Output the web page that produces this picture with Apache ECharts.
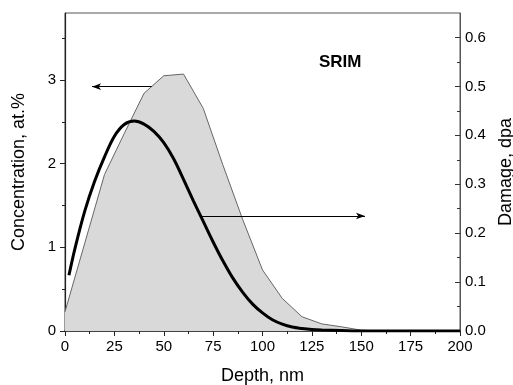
<!DOCTYPE html>
<html>
<head>
<meta charset="utf-8">
<script src="https://cdn.jsdelivr.net/npm/echarts@6/dist/echarts.min.js"></script>
<style>
html,body{margin:0;padding:0;background:#fff;}
#chart{width:513px;height:385px;}
</style>
</head>
<body>
<div id="chart"></div>
<script>
// Concentration (gray area, left axis)
const concDepth = [0,10,20,30,40,50,60,70,80,90,100,110,120,130,140,150,160,170,180,190,200];
const concentration = [0.23,1.05,1.87,2.36,2.84,3.05,3.07,2.66,1.98,1.33,0.73,0.39,0.17,0.085,0.05,0.01,0,0,0,0,0];
// Damage (black curve, right axis)
const damDepth = [2,5,10,15,20,25,30,35,40,45,50,55,60,65,70,75,80,85,90,95,100,105,110,115,120,125,130,140,150,160,170,180,190,200];
const damage = [0.114,0.168,0.245,0.306,0.356,0.398,0.422,0.429,0.423,0.408,0.385,0.352,0.310,0.266,0.224,0.182,0.143,0.108,0.079,0.055,0.037,0.023,0.014,0.008,0.005,0.003,0.002,0.001,0,0,0,0,0,0];
// Tick values
const leftMajor = [0,1,2,3];
const leftMinor = [0.5,1.5,2.5,3.5];
const rightMajor = [0,0.1,0.2,0.3,0.4,0.5,0.6];
const rightMinor = [0.05,0.15,0.25,0.35,0.45,0.55];
// Arrow annotations (data coordinates)
const concArrow = {from:[43.9,2.92], to:[13.7,2.92]};
const damArrow = {from:[69.4,0.235], to:[151.9,0.235]};

const FONT = 'Arial, "Liberation Sans", sans-serif';
const chart = echarts.init(document.getElementById('chart'), null, {renderer:'canvas'});

const lblStyle = {color:'#000', fontFamily:FONT, fontSize:15};

chart.setOption({
  animation:false,
  backgroundColor:'#fff',
  title:{text:'SRIM', left:314, top:49, textStyle:{fontFamily:FONT, fontSize:17, fontWeight:'bold', color:'#000'}},
  grid:{left:65, right:53, top:13, bottom:54, outerBoundsMode:'none', containLabel:false, show:true, borderColor:'#555', borderWidth:1, backgroundColor:'transparent'},
  xAxis:{
    type:'value', min:0, max:200, interval:25,
    name:'Depth, nm', nameLocation:'middle', nameGap:36,
    nameTextStyle:{fontFamily:FONT, fontSize:18, color:'#000'},
    axisLine:{show:true, lineStyle:{color:'#222', width:1.5}},
    axisTick:{show:true, inside:false, length:5, lineStyle:{color:'#222'}},
    minorTick:{show:true, splitNumber:2, length:3, lineStyle:{color:'#222'}},
    splitLine:{show:false},
    axisLabel:Object.assign({margin:8}, lblStyle)
  },
  yAxis:[
    {
      type:'value', min:0, max:3.8, position:'left',
      name:'Concentration, at.%', nameLocation:'middle', nameGap:37, nameRotate:90,
      nameTextStyle:{fontFamily:FONT, fontSize:18, color:'#000'},
      axisLine:{show:true, lineStyle:{color:'#222', width:1.2}},
      axisTick:{show:true, inside:false, length:5, customValues:leftMajor, lineStyle:{color:'#222'}},
      axisLabel:Object.assign({margin:9, customValues:leftMajor}, lblStyle),
      splitLine:{show:false}
    },
    {
      type:'value', min:0, max:0.65, position:'right',
      name:'Damage, dpa', nameLocation:'middle', nameGap:34, nameRotate:90,
      nameTextStyle:{fontFamily:FONT, fontSize:18, color:'#000'},
      axisLine:{show:true, lineStyle:{color:'#555', width:1}},
      axisTick:{show:true, inside:true, length:5, customValues:rightMajor, lineStyle:{color:'#333'}},
      axisLabel:Object.assign({margin:5, customValues:rightMajor, formatter:function(v){return v.toFixed(1);}}, lblStyle),
      splitLine:{show:false}
    },
    {
      type:'value', min:0, max:3.8, position:'left',
      axisLine:{show:false},
      axisTick:{show:true, inside:false, length:3, customValues:leftMinor, lineStyle:{color:'#222'}},
      axisLabel:{show:false}, splitLine:{show:false}
    },
    {
      type:'value', min:0, max:0.65, position:'right',
      axisLine:{show:false},
      axisTick:{show:true, inside:true, length:3, customValues:rightMinor, lineStyle:{color:'#333'}},
      axisLabel:{show:false}, splitLine:{show:false}
    }
  ],
  series:[
    {
      name:'Concentration', type:'line', yAxisIndex:0,
      data:concDepth.map(function(d,i){return [d, concentration[i]];}),
      showSymbol:false, smooth:false,
      lineStyle:{color:'#666', width:1},
      areaStyle:{color:'#d9d9d9', opacity:1},
      z:2,
      markLine:{
        silent:true, symbol:['none','arrow'], symbolSize:[5,9],
        label:{show:false},
        lineStyle:{color:'#000', width:1, type:'solid'},
        data:[[{coord:concArrow.from},{coord:concArrow.to}]]
      }
    },
    {
      name:'Damage', type:'line', yAxisIndex:1,
      data:damDepth.map(function(d,i){return [d, damage[i]];}),
      showSymbol:false, smooth:0.3,
      lineStyle:{color:'#000', width:3},
      z:3,
      markLine:{
        silent:true, symbol:['none','arrow'], symbolSize:[5,9],
        label:{show:false},
        lineStyle:{color:'#000', width:1, type:'solid'},
        data:[[{coord:damArrow.from},{coord:damArrow.to}]]
      }
    }
  ]
});
</script>
</body>
</html>
